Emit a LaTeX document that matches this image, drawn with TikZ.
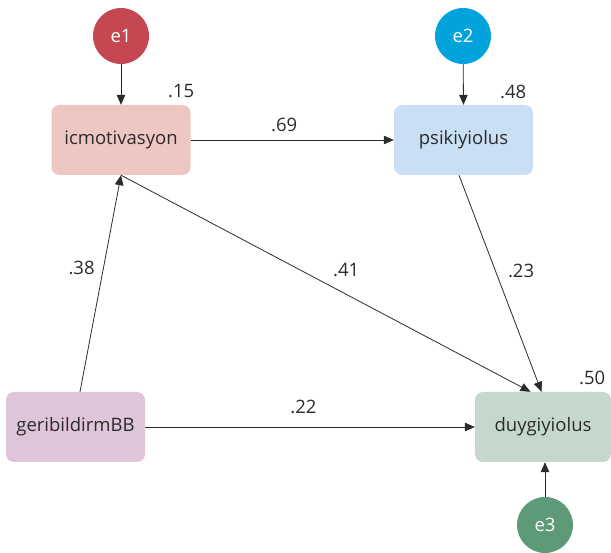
\documentclass[tikz,border=0pt]{standalone}
\usepackage{fontspec}
\setmainfont{Open Sans}
\usetikzlibrary{arrows.meta,positioning}

\definecolor{eone}{HTML}{C44752}
\definecolor{etwo}{HTML}{00A3DC}
\definecolor{ethree}{HTML}{5E9A78}
\definecolor{icmfill}{HTML}{EEC7C2}
\definecolor{psifill}{HTML}{C8DFF4}
\definecolor{gerfill}{HTML}{DFC5D9}
\definecolor{duyfill}{HTML}{C5D8CC}
\definecolor{linec}{HTML}{2B2B2B}

\tikzset{
  varbox/.style={rectangle, rounded corners=8pt, minimum width=139pt, minimum height=70pt,
    inner sep=0pt, text=linec},
  errnode/.style={circle, minimum size=56pt, inner sep=0pt, text=white},
  causal/.style={draw=linec, line width=0.8pt, -{Triangle[length=10pt,width=8.5pt]}},
  coef/.style={text=linec}
}

\begin{document}
\begin{tikzpicture}[x=1pt, y=-1pt, font=\fontsize{18.5}{22}\selectfont]

\useasboundingbox (0,0) rectangle (611,553);

\node (icm) at (121,140) [varbox, fill=icmfill] {icmotivasyon};
\node (psi) at (463.5,140) [varbox, fill=psifill] {psikiyiolus};
\node (ger) at (75.5,427) [varbox, fill=gerfill] {geribildirmBB};
\node (duy) at (543,427) [varbox, fill=duyfill, minimum width=136pt] {duygiyiolus};

\node (e1) at (121,36) [errnode, fill=eone] {e1};
\node (e2) at (463,36) [errnode, fill=etwo] {e2};
\node (e3) at (545,525) [errnode, fill=ethree] {e3};

% squared multiple correlations
\node (r1) at ([xshift=-9.5pt, yshift=14pt]icm.north east) [coef] {.15};
\node (r2) at ([xshift=-20pt, yshift=12.5pt]psi.north east) [coef] {.48};
\node (r3) at ([xshift=-19pt, yshift=14pt]duy.north east) [coef] {.50};

\draw[causal] (e1) -- (icm.north);
\draw[causal] (e2) -- (psi.north);
\draw[causal] (e3) -- (duy.south -| e3);

\draw[causal] (icm) -- node[coef, pos=0.46, above=5pt] {.69} (psi);
\draw[causal] ([xshift=4.5pt]ger.north) -- node[coef, pos=0.57, left=5pt] {.38} (icm.south);
\draw[causal] (icm.south) -- node[coef, pos=0.55, above=14pt] {.41} ([xshift=-12.5pt]duy.north);
\draw[causal] ([xshift=-4.5pt]psi.south) -- node[coef, pos=0.44, right=9pt] {.23} ([xshift=-1.5pt]duy.north);
\draw[causal] (ger) -- node[coef, pos=0.48, above=10pt] {.22} (duy);

\end{tikzpicture}
\end{document}
